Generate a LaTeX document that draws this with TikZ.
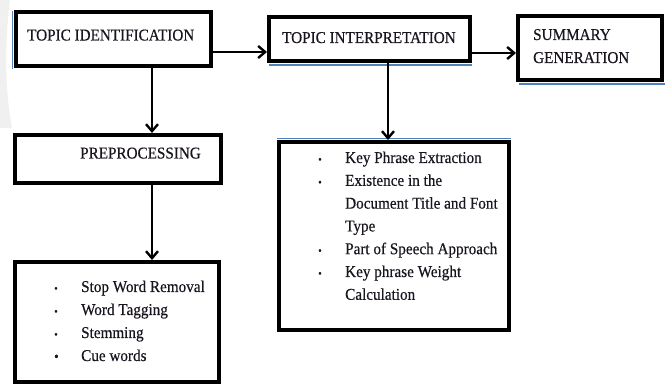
\documentclass[tikz,border=0pt]{standalone}
\usepackage{fontspec}
\setmainfont{Liberation Serif}[FakeStretch=0.92,FakeBold=0.4]
\usetikzlibrary{arrows.meta}
\definecolor{accentblue}{RGB}{79,129,189}
\definecolor{txt}{RGB}{25,20,30}
\tikzset{
  box/.style={draw=black, line width=4pt, fill=white, inner sep=0pt},
  lbl/.style={inner sep=0pt, anchor=base west, text=txt, font=\fontsize{16.5}{23}\selectfont},
  arr/.style={line width=2.5pt, -{Straight Barb[length=7pt,width=12pt,line width=2.4pt]}},
  accent/.style={accentblue, line width=1.8pt}
}
\newcommand{\smbul}{{\fontsize{11}{11}\selectfont\textbullet}}
\newcommand{\bigbul}{{\fontsize{14}{14}\selectfont\textbullet}}
\begin{document}
\begin{tikzpicture}[x=1pt,y=-1pt]
\useasboundingbox (0,0) rectangle (665,385);
% faint scan shading at left edge
\fill[gray!12] (0,0) -- (10,0) .. controls (5,40) and (4,85) .. (12,128) -- (0,128) -- cycle;
% accent lines
\draw[accent] (12.5,11) -- (12.5,69);
\draw[accent] (269,65) -- (472,65);
\draw[accent] (519,84) -- (665,84);
\draw[accent] (277,138.5) -- (511,138.5);
% boxes
\node[box, minimum width=195pt, minimum height=54pt] (b1) at (113.5,39) {};
\node[box, minimum width=201pt, minimum height=44pt] (b2) at (369.5,39) {};
\node[box, minimum width=144pt, minimum height=64pt] (b3) at (590,48) {};
\node[box, minimum width=206pt, minimum height=48pt] (b4) at (118,159) {};
\node[box, minimum width=204pt, minimum height=120pt] (b5) at (117,322) {};
\node[box, minimum width=230pt, minimum height=188pt] (b6) at (394,236) {};
% texts
\node[lbl] (t1) at (27,40.5) {TOPIC IDENTIFICATION};
\node[lbl] (t2) at (282,43) {TOPIC INTERPRETATION};
\node[lbl] (t3) at (533,40) {\begin{tabular}[t]{@{}l@{}}SUMMARY\\GENERATION\end{tabular}};
\node[lbl] (t4) at (80,158.5) {PREPROCESSING};
\node[lbl] (t5) at (54,292) {\begin{tabular}[t]{@{}p{27pt}@{}l@{}}
\smbul & Stop Word Removal\\
\smbul & Word Tagging\\
\smbul & Stemming\\
\bigbul & Cue words
\end{tabular}};
\node[lbl, font=\fontsize{16.5}{22.8}\selectfont] (t6) at (318,163) {\begin{tabular}[t]{@{}p{27pt}@{}l@{}}
\smbul & Key Phrase Extraction\\
\smbul & Existence in the\\
 & Document Title and Font\\
 & Type\\
\smbul & Part of Speech Approach\\
\smbul & Key phrase Weight\\
 & Calculation
\end{tabular}};
% connectors
\draw[arr] ([yshift=-13pt]b1.east) -- ([yshift=-13pt]b1.east -| b2.west);
\draw[arr] ([yshift=-14pt]b2.east) -- ([yshift=-14pt]b2.east -| b3.west);
\draw[arr] ([xshift=38.5pt]b1.south) -- ([xshift=38.5pt]b1.south |- b4.north);
\draw[arr] ([xshift=34pt]b4.south) -- ([xshift=34pt]b4.south |- b5.north);
\draw[arr] ([xshift=18.5pt]b2.south) -- ([xshift=18.5pt]b2.south |- b6.north);
\end{tikzpicture}
\end{document}
